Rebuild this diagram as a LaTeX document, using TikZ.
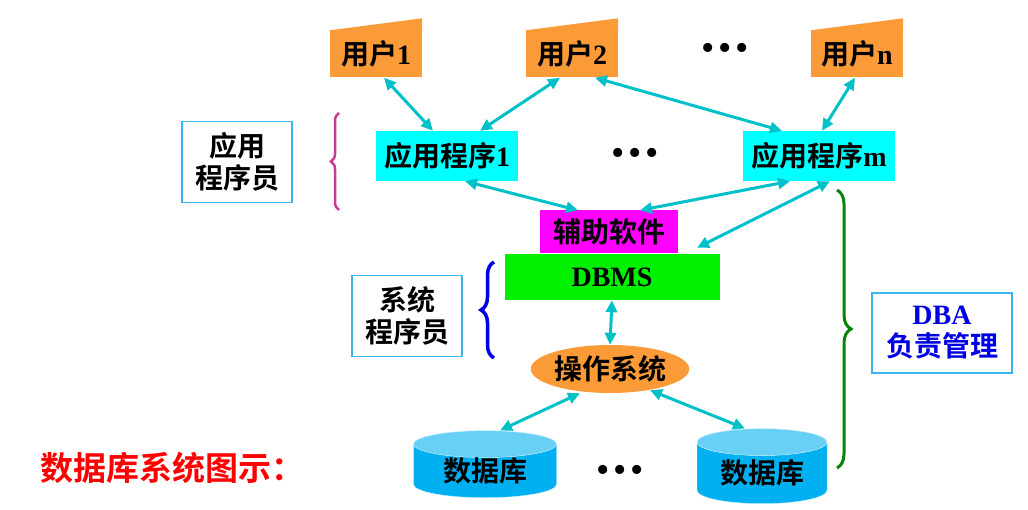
\documentclass[tikz,border=0pt]{standalone}
\usepackage{fontspec}
\setmainfont{Liberation Serif}
\newfontfamily\cjk{Noto Sans CJK SC}[BoldFont={Noto Sans CJK SC Bold}]
\usetikzlibrary{arrows.meta,shapes.geometric,decorations.pathreplacing}

\definecolor{userorange}{RGB}{250,155,55}
\definecolor{appcyan}{RGB}{0,255,255}
\definecolor{auxpink}{RGB}{255,0,255}
\definecolor{dbmsgreen}{RGB}{0,240,0}
\definecolor{linkcyan}{RGB}{0,192,200}
\definecolor{boxblue}{RGB}{60,180,240}
\definecolor{dbbody}{RGB}{0,176,240}
\definecolor{dbtop}{RGB}{105,208,245}
\definecolor{bracepink}{RGB}{200,60,150}
\definecolor{braceblue}{RGB}{0,0,230}
\definecolor{bracegreen}{RGB}{10,130,10}

\begin{document}
\begin{tikzpicture}[x=1pt,y=-1pt,
	txt/.style={font=\cjk\bfseries\fontsize{28}{32}\selectfont, inner sep=0pt},
	user/.style={txt, fill=userorange, minimum width=92pt, minimum height=47pt},
	app/.style={txt, fill=appcyan, minimum height=50pt},
	role/.style={txt, draw=boxblue, line width=1.5pt, align=center, minimum width=110pt, minimum height=81pt},
	link/.style={linkcyan, line width=3pt, {Triangle[length=12pt,width=11pt]}-{Triangle[length=12pt,width=11pt]}},
	dots/.style={font=\fontsize{38}{38}\selectfont, inner sep=0pt},
	store/.style={txt, cylinder, shape border rotate=90, aspect=0.32, draw=white!80!cyan, thin,
		cylinder uses custom fill, cylinder body fill=dbbody, cylinder end fill=dbtop}]
	\useasboundingbox (0,0) rectangle (1028,510);

	% users
	\node[user] (u1) at (376,54) {用户{\rmfamily 1}};
	\node[user] (u2) at (572,54) {用户{\rmfamily 2}};
	\node[user] (un) at (857,54) {用户{\rmfamily n}};
	\foreach \u in {u1,u2,un}
		\fill[userorange] (\u.north west) -- ([yshift=12pt]\u.north east) -- (\u.north east) -- cycle;
	\node[dots] (d1) at (725,52) {\textbullet\hspace{4pt}\textbullet\hspace{4pt}\textbullet};

	% applications
	\node[app, minimum width=142pt] (app1) at (447,156) {应用程序{\rmfamily 1}};
	\node[app, minimum width=152pt] (appm) at (819,156) {应用程序{\rmfamily m}};
	\node[dots] (d2) at (635,157) {\textbullet\hspace{4pt}\textbullet\hspace{4pt}\textbullet};

	% middle layers
	\node[txt, fill=auxpink, minimum width=138pt, minimum height=43pt] (aux) at (609,232) {辅助软件};
	\node[txt, fill=dbmsgreen, minimum width=215pt, minimum height=46pt] (dbms) at (612,277) {\rmfamily DBMS};
	\node[txt, ellipse, fill=userorange, minimum width=156pt, minimum height=48pt] (os) at (610,369) {操作系统};

	% databases
	\node[store, minimum width=143pt, minimum height=66pt] (db1) at (485,471) {\raisebox{-11pt}{数据库}};
	\node[store, minimum width=130pt, minimum height=75pt] (db2) at (762,473) {\raisebox{-9pt}{数据库}};
	\node[dots] (d3) at (620,474) {\textbullet\hspace{4pt}\textbullet\hspace{4pt}\textbullet};

	% roles
	\node[role] (coder) at (237,162) {应用\\程序员};
	\node[role] (sys) at (407,316) {系统\\程序员};
	\node[role, text=braceblue, minimum width=140pt, minimum height=80pt] (dba) at (942,333) {{\rmfamily DBA}\\负责管理};
	\node[txt, text=red, font=\cjk\bfseries\fontsize{33}{36}\selectfont] (title) at (172,468) {数据库系统图示：};

	% braces
	\draw[bracepink, line width=2.5pt, decorate, decoration={brace, amplitude=8pt}] (339,210) -- (339,113);
	\draw[braceblue, line width=3.5pt, decorate, decoration={brace, amplitude=13pt}] (494,358) -- (494,262);
	\draw[bracegreen, line width=3pt, decorate, decoration={brace, amplitude=14pt}] (837,190) -- (837,468);

	% connectors
	\draw[link] ([xshift=8pt]u1.south) -- ([xshift=-14pt]app1.north);
	\draw[link] ([xshift=-12pt]u2.south) -- ([xshift=33pt]app1.north);
	\draw[link] ([xshift=23pt]u2.south) -- ([xshift=-37pt]appm.north);
	\draw[link] ([xshift=-2pt]un.south) -- ([xshift=3pt]appm.north);
	\draw[link] ([xshift=18pt]app1.south) -- ([xshift=-31pt]aux.north);
	\draw[link] ([xshift=-29pt]appm.south) -- ([xshift=31pt]aux.north);
	\draw[link] ([xshift=11pt]appm.south) -- ([xshift=85pt,yshift=6pt]dbms.north);
	\draw[link] (dbms.south) -- (os.north);
	\draw[link] ([xshift=-30pt]os.south) -- ([xshift=15pt]db1.north);
	\draw[link] ([xshift=40pt,yshift=3pt]os.south) -- ([xshift=-17pt]db2.north);
\end{tikzpicture}
\end{document}
